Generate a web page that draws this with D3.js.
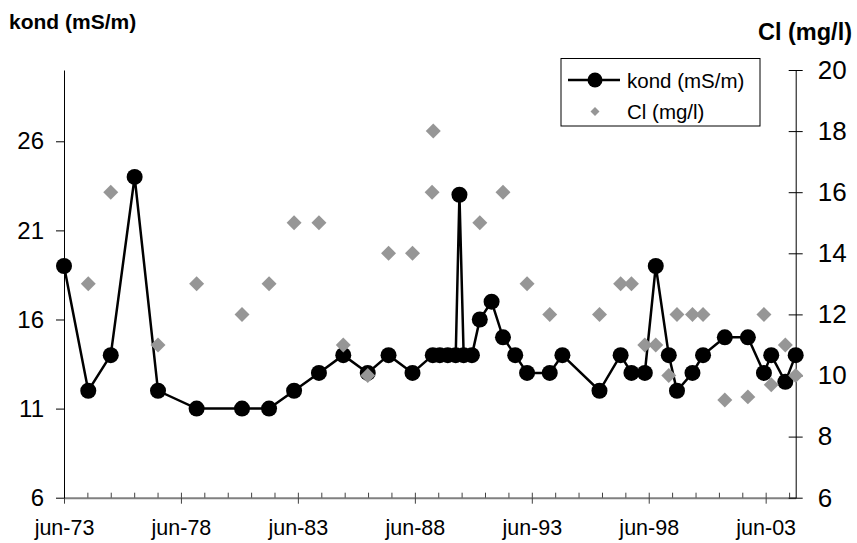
<!DOCTYPE html>
<html>
<head>
<meta charset="utf-8">
<script src="https://cdnjs.cloudflare.com/ajax/libs/d3/7.8.5/d3.min.js"></script>
<style>
  body { margin: 0; background: #fff; }
  svg { font-family: Arial, "Liberation Sans", sans-serif; }
</style>
</head>
<body>
<div class="content"></div>
<script>
// Main data
const kondDates = [
  "1973-06-01", "1974-06-15", "1975-06-01", "1976-06-08", "1977-06-08",
  "1979-02-01", "1981-01-10", "1982-03-08", "1983-04-03", "1984-04-25",
  "1985-05-10", "1986-05-27", "1987-04-17", "1988-04-25", "1989-03-08",
  "1989-06-26", "1989-10-28", "1990-03-01", "1990-04-28", "1990-07-03",
  "1990-11-09", "1991-03-12", "1991-09-12", "1992-03-08", "1992-09-15",
  "1993-03-19", "1994-03-08", "1994-09-22", "1996-04-23", "1997-03-19",
  "1997-09-04", "1998-04-01", "1998-09-19", "1999-04-10", "1999-08-16",
  "2000-04-14", "2000-09-26", "2001-09-01", "2002-08-27", "2003-05-05",
  "2003-08-27", "2004-04-03", "2004-09-12",
];
const kondValues = [
  19, 12, 14, 24, 12,
  11, 11, 11, 12, 13,
  14, 13, 14, 13, 14,
  14, 14, 14, 23, 14,
  14, 16, 17, 15, 14,
  13, 13, 14, 12, 14,
  13, 13, 19, 14, 12,
  13, 14, 15, 15, 13,
  14, 12.5, 14,
];

const clDates = [
  "1974-06-15", "1975-06-01", "1977-06-08", "1979-02-01", "1981-01-10",
  "1982-03-08", "1983-04-03", "1984-04-25", "1985-05-10", "1986-05-27",
  "1987-04-17", "1988-04-25", "1989-02-25", "1989-03-15", "1991-03-12",
  "1992-03-08", "1993-03-19", "1994-03-08", "1996-04-23", "1997-03-19",
  "1997-09-04", "1998-04-01", "1998-09-19", "1999-04-10", "1999-08-16",
  "2000-04-14", "2000-09-26", "2001-09-01", "2002-08-27", "2003-05-05",
  "2003-08-27", "2004-04-03", "2004-09-12",
];
const clValues = [
  13, 16, 11, 13, 12,
  13, 15, 15, 11, 10,
  14, 14, 16, 18, 15,
  16, 13, 12, 12, 13,
  13, 11, 11, 10, 12,
  12, 12, 9.2, 9.3, 12,
  9.7, 11, 10,
];

// Helpers
const leftTicks = [6, 11, 16, 21, 26];
const rightTicks = [6, 8, 10, 12, 14, 16, 18, 20];
const seriesNames = ["kond (mS/m)", "Cl (mg/l)"];
const parseDate = d3.timeParse("%Y-%m-%d");

const kond = kondDates.map((d, i) => ({ date: parseDate(d), value: kondValues[i] }));
const cl = clDates.map((d, i) => ({ date: parseDate(d), value: clValues[i] }));

// Dimensions
const width = 857;
const height = 543;
const margin = { top: 70, right: 61.3, bottom: 45.3, left: 64 };

const svg = d3
  .select(".content")
  .append("svg")
  .attr("width", width)
  .attr("height", height);

// Scales
const xScale = d3
  .scaleTime()
  .domain([new Date(1973, 5, 1), kond[kond.length - 1].date])
  .range([margin.left, width - margin.right]);

const yLeft = d3
  .scaleLinear()
  .domain([6, 30])
  .range([height - margin.bottom, margin.top]);

const yRight = d3
  .scaleLinear()
  .domain([6, 20])
  .range([height - margin.bottom, margin.top]);

// X axis - minor ticks (every year, inside)
const yearTicks = d3.range(0, 32).map((k) => new Date(1973 + k, 5, 1));
const majorTicks = yearTicks.filter((d, i) => i % 5 === 0);

svg
  .append("g")
  .attr("transform", `translate(0, ${height - margin.bottom})`)
  .call(d3.axisBottom(xScale).tickValues(yearTicks).tickSize(-5).tickSizeOuter(0).tickFormat(""))
  .call((g) => g.select(".domain").attr("stroke", "#808080").attr("stroke-width", 2))
  .call((g) => g.selectAll(".tick line").attr("stroke", "#404040"));

// X axis - major ticks with labels
const formatMonth = d3.timeFormat("%b-%y");
svg
  .append("g")
  .attr("transform", `translate(0, ${height - margin.bottom})`)
  .call(
    d3
      .axisBottom(xScale)
      .tickValues(majorTicks)
      .tickSize(6)
      .tickSizeOuter(0)
      .tickPadding(16)
      .tickFormat((d) => formatMonth(d).toLowerCase())
  )
  .call((g) => g.select(".domain").remove())
  .call((g) => g.selectAll(".tick line").attr("stroke", "#404040"))
  .call((g) => g.selectAll("text").attr("font-size", 21.5).attr("fill", "#000").attr("font-family", null));

// Left axis
svg
  .append("g")
  .attr("transform", `translate(${margin.left}, 0)`)
  .call(d3.axisLeft(yLeft).tickValues(leftTicks).tickSize(8).tickSizeOuter(0).tickPadding(12))
  .call((g) => g.selectAll("text").attr("font-size", 24).attr("fill", "#000").attr("font-family", null));

// Right axis, ticks cross the line
svg
  .append("g")
  .attr("transform", `translate(${width - margin.right}, 0)`)
  .call(d3.axisRight(yRight).tickValues(rightTicks).tickSize(7).tickSizeOuter(0).tickPadding(15))
  .call((g) => g.selectAll(".tick line").attr("x1", -7))
  .call((g) => g.selectAll("text").attr("font-size", 26).attr("fill", "#000").attr("font-family", null));

// Axis titles
svg
  .append("text")
  .attr("x", 9)
  .attr("y", 29)
  .attr("font-size", 21)
  .attr("font-weight", "bold")
  .text(seriesNames[0]);

svg
  .append("text")
  .attr("x", 852)
  .attr("y", 40)
  .attr("text-anchor", "end")
  .attr("font-size", 23.5)
  .attr("font-weight", "bold")
  .text(seriesNames[1]);

// kond line + markers
const line = d3
  .line()
  .x((d) => xScale(d.date))
  .y((d) => yLeft(d.value));

svg
  .append("path")
  .datum(kond)
  .attr("fill", "none")
  .attr("stroke", "#000")
  .attr("stroke-width", 2.5)
  .attr("d", line);

svg
  .append("g")
  .selectAll("circle")
  .data(kond)
  .join("circle")
  .attr("cx", (d) => xScale(d.date))
  .attr("cy", (d) => yLeft(d.value))
  .attr("r", 8)
  .attr("fill", "#000");

// Cl markers (diamonds)
const diamond = d3.symbol(d3.symbolSquare, 112);
svg
  .append("g")
  .selectAll("path")
  .data(cl)
  .join("path")
  .attr("d", diamond)
  .attr("transform", (d) => `translate(${xScale(d.date)}, ${yRight(d.value)}) rotate(45)`)
  .attr("fill", "#969696");

// Legend
const legend = svg.append("g").attr("transform", "translate(561, 58.5)");

legend
  .append("rect")
  .attr("width", 199)
  .attr("height", 67.5)
  .attr("fill", "#fff")
  .attr("stroke", "#000")
  .attr("stroke-width", 1);

legend
  .append("line")
  .attr("x1", 7)
  .attr("x2", 59)
  .attr("y1", 21.5)
  .attr("y2", 21.5)
  .attr("stroke", "#000")
  .attr("stroke-width", 2.5);

legend.append("circle").attr("cx", 34).attr("cy", 21.5).attr("r", 7.5).attr("fill", "#000");

legend
  .append("path")
  .attr("d", d3.symbol(d3.symbolSquare, 40))
  .attr("transform", "translate(34, 53) rotate(45)")
  .attr("fill", "#969696");

legend
  .selectAll("text")
  .data(seriesNames)
  .join("text")
  .attr("x", 66)
  .attr("y", (d, i) => 29 + i * 31.5)
  .attr("font-size", 20.5)
  .text((d) => d);
</script>
</body>
</html>
